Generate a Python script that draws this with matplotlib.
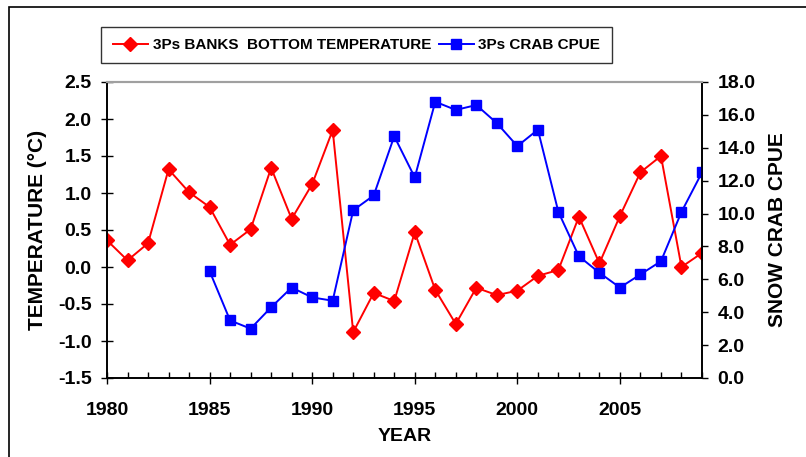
import matplotlib.pyplot as plt
from matplotlib.patches import Rectangle
from matplotlib.ticker import MultipleLocator, FormatStrFormatter

plt.rcParams['font.family'] = ['Liberation Sans', 'DejaVu Sans']
plt.rcParams['font.weight'] = 'bold'

years = list(range(1980, 2010))
temp = [0.36, 0.09, 0.32, 1.32, 1.01, 0.81, 0.30, 0.51, 1.34, 0.65,
        1.12, 1.85, -0.88, -0.35, -0.46, 0.47, -0.31, -0.77, -0.28, -0.38,
        -0.32, -0.12, -0.04, 0.68, 0.05, 0.69, 1.28, 1.50, 0.0, 0.19]
cpue_years = list(range(1985, 2010))
cpue = [6.5, 3.5, 3.0, 4.3, 5.5, 4.9, 4.7, 10.2, 11.1, 14.7,
        12.2, 16.8, 16.3, 16.6, 15.5, 14.1, 15.1, 10.1, 7.4, 6.4,
        5.5, 6.3, 7.1, 10.1, 12.5]

fig = plt.figure(figsize=(8.06, 4.57), dpi=100)
W, H = 806, 457

# outer border
fig.patches.append(Rectangle((9 / W, -0.1), 1.2, 1 - 7.5 / H + 0.1,
                             transform=fig.transFigure, fill=False,
                             edgecolor='black', linewidth=1.2))

ax = fig.add_axes([107 / W, 1 - 378 / H, (702 - 107) / W, (378 - 82) / H])
ax2 = ax.twinx()

l1, = ax.plot(years, temp, color='red', marker='D', markersize=7.5,
              linewidth=1.4, label='3Ps BANKS  BOTTOM TEMPERATURE')
l2, = ax2.plot(cpue_years, cpue, color='blue', marker='s', markersize=7.5,
               linewidth=1.4, label='3Ps CRAB CPUE')

ax.set_xlim(1980, 2009)
ax.set_ylim(-1.5, 2.5)
ax2.set_ylim(0, 18)

ax.xaxis.set_major_locator(MultipleLocator(5))
ax.xaxis.set_minor_locator(MultipleLocator(1))
ax.yaxis.set_major_locator(MultipleLocator(0.5))
ax.yaxis.set_major_formatter(FormatStrFormatter('%.1f'))
ax2.yaxis.set_major_locator(MultipleLocator(2))
ax2.yaxis.set_major_formatter(FormatStrFormatter('%.1f'))

ax.tick_params(axis='x', which='major', direction='inout', length=8, width=1,
               labelsize=14, pad=13)
ax.tick_params(axis='x', which='minor', direction='in', length=4, width=1)
ax.tick_params(axis='y', direction='inout', length=8, width=1, labelsize=14, pad=7)
ax2.tick_params(axis='y', direction='out', length=4, width=1, labelsize=14, pad=7)

for a in (ax, ax2):
    a.spines['top'].set_color('#a0a0a0')
    a.spines['top'].set_linewidth(1.5)
    a.spines['left'].set_linewidth(1.2)
    a.spines['right'].set_linewidth(1.2)
    a.spines['bottom'].set_linewidth(1.2)

ax.set_xlabel('YEAR', fontsize=14, fontweight='bold', labelpad=7)
ax.set_ylabel('TEMPERATURE (°C)', fontsize=15, fontweight='bold', labelpad=8)
ax2.set_ylabel('SNOW CRAB CPUE', fontsize=15, fontweight='bold', labelpad=9)

leg = fig.legend(handles=[l1, l2], loc='center', ncol=2,
                 bbox_to_anchor=(356.5 / W, 1 - 45 / H), fontsize=11,
                 frameon=True, fancybox=False, edgecolor='black',
                 handlelength=2.3, handletextpad=0.3, columnspacing=0.5,
                 borderpad=0.75, borderaxespad=0)
leg.get_frame().set_linewidth(1.0)

fig.savefig('out.png', dpi=100)
